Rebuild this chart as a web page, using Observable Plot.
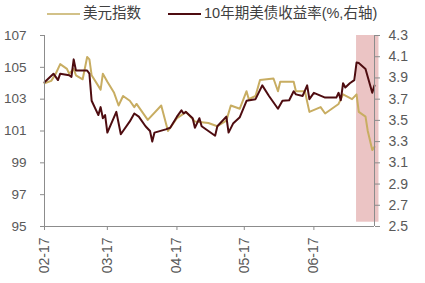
<!DOCTYPE html>
<html>
<head>
<meta charset="utf-8">
<script src="https://cdn.jsdelivr.net/npm/d3@7"></script>
<script src="https://cdn.jsdelivr.net/npm/@observablehq/plot@0.6"></script>
<style>
  html, body { margin: 0; padding: 0; background: #fff; }
  body { width: 425px; height: 283px; overflow: hidden; font-family: "Liberation Sans", Arial, "Noto Sans CJK SC", sans-serif; }
  #legend { position: relative; height: 20px; width: 425px; font-family: "Liberation Sans", "Noto Sans CJK SC", sans-serif; font-size: 14.5px; color: #404040; }
  .sw { position: absolute; top: 13px; height: 2px; width: 33px; }
  .lb { position: absolute; top: 4px; line-height: 18px; white-space: nowrap; }
  #chart svg { overflow: visible; }
</style>
</head>
<body>
<div id="legend"></div>
<div id="chart"></div>
<script>
// ---- data ----
const seriesNames = ["美元指数", "10年期美债收益率(%,右轴)"];
const seriesColors = ["#c8ad62", "#4e0c10"];

const dxyDates = ["2023-02-17","2023-02-20","2023-02-22","2023-02-24","2023-02-27","2023-02-28","2023-03-02","2023-03-03","2023-03-06","2023-03-08","2023-03-09","2023-03-10","2023-03-14","2023-03-15","2023-03-17","2023-03-20","2023-03-22","2023-03-24","2023-03-27","2023-03-29","2023-03-30","2023-04-04","2023-04-10","2023-04-13","2023-04-17","2023-04-19","2023-04-21","2023-04-25","2023-05-01","2023-05-05","2023-05-09","2023-05-11","2023-05-15","2023-05-18","2023-05-19","2023-05-22","2023-05-24","2023-05-30","2023-06-01","2023-06-02","2023-06-08","2023-06-09","2023-06-13","2023-06-15","2023-06-20","2023-06-22","2023-06-28","2023-06-30","2023-07-04","2023-07-06","2023-07-07","2023-07-10","2023-07-11","2023-07-13","2023-07-14"];
const dxyValues = [104.0,104.15,104.6,105.2,104.9,104.6,104.9,104.5,104.25,105.65,105.5,104.5,103.6,104.6,104.1,103.4,102.6,103.2,102.9,102.5,102.7,101.7,102.6,101.0,101.8,102.0,102.2,101.6,101.5,101.3,101.65,102.6,102.4,103.5,103.0,103.2,104.2,104.3,103.5,104.1,104.1,103.5,103.5,102.2,102.5,102.1,102.7,103.3,103.0,103.3,102.2,101.9,101.0,99.8,100.0];

const ylDates = ["2023-02-17","2023-02-21","2023-02-23","2023-02-24","2023-02-28","2023-03-01","2023-03-02","2023-03-03","2023-03-08","2023-03-09","2023-03-10","2023-03-13","2023-03-14","2023-03-15","2023-03-16","2023-03-17","2023-03-21","2023-03-23","2023-03-24","2023-03-27","2023-03-29","2023-03-31","2023-04-03","2023-04-05","2023-04-06","2023-04-07","2023-04-12","2023-04-14","2023-04-17","2023-04-19","2023-04-20","2023-04-21","2023-04-24","2023-04-25","2023-04-27","2023-04-28","2023-05-04","2023-05-05","2023-05-09","2023-05-10","2023-05-12","2023-05-15","2023-05-18","2023-05-22","2023-05-25","2023-05-28","2023-06-01","2023-06-03","2023-06-06","2023-06-08","2023-06-09","2023-06-12","2023-06-14","2023-06-15","2023-06-17","2023-06-22","2023-06-27","2023-06-28","2023-06-29","2023-06-30","2023-07-01","2023-07-03","2023-07-05","2023-07-06","2023-07-07","2023-07-10","2023-07-13","2023-07-14"];
const ylValues = [3.86,3.94,3.88,3.94,3.925,3.91,4.075,3.97,3.97,3.94,3.685,3.55,3.625,3.52,3.55,3.385,3.58,3.37,3.40,3.49,3.565,3.535,3.445,3.40,3.30,3.385,3.415,3.43,3.535,3.595,3.565,3.58,3.52,3.43,3.52,3.445,3.355,3.445,3.535,3.385,3.47,3.53,3.685,3.70,3.83,3.73,3.61,3.685,3.69,3.775,3.745,3.73,3.83,3.70,3.76,3.715,3.715,3.76,3.69,3.85,3.81,3.85,3.88,4.045,4.04,3.985,3.76,3.83];

const xDomain = ["2023-02-17", "2023-07-14"];
const xTickDates = ["2023-02-17","2023-03-17","2023-04-17","2023-05-17","2023-06-17"];
const leftTicks = [95, 97, 99, 101, 103, 105, 107];
const rightTicks = [2.5, 2.7, 2.9, 3.1, 3.3, 3.5, 3.7, 3.9, 4.1, 4.3];
const shadeDates = ["2023-07-06", "2023-07-16"];
const shadeLeft = [95.27, 107];

// ---- mapping right axis onto left scale ----
const L0 = 95, L1 = 107, R0 = 2.5, R1 = 4.3;
const toLeft = r => L0 + (r - R0) * (L1 - L0) / (R1 - R0);
const toRight = l => R0 + (l - L0) * (R1 - R0) / (L1 - L0);
const P = d3.utcParse("%Y-%m-%d");

const dxy = dxyDates.map((d, i) => ({date: P(d), v: dxyValues[i]}));
const yl = ylDates.map((d, i) => ({date: P(d), v: toLeft(ylValues[i])}));

// ---- legend ----
const legend = document.getElementById("legend");
const swX = [47, 168], lbX = [83, 204];
seriesNames.forEach((n, i) => {
  const s = document.createElement("div");
  s.className = "sw"; s.style.left = swX[i] + "px"; s.style.background = seriesColors[i];
  if (i === 0) s.style.background = "#d2c188";
  legend.appendChild(s);
  const t = document.createElement("div");
  t.className = "lb"; t.style.left = lbX[i] + "px"; t.textContent = n;
  legend.appendChild(t);
});

const textColor = "#595959";
const axisColor = "#8c8c8c";

const chart = Plot.plot({
  width: 425,
  height: 263,
  marginLeft: 44,
  marginRight: 51,
  marginTop: 15,
  marginBottom: 57,
  style: {fontFamily: "'Liberation Sans', Arial, sans-serif", color: textColor, background: "transparent"},
  x: {type: "utc", domain: xDomain.map(P)},
  y: {domain: [L0, L1]},
  marks: [
    Plot.rect([{x1: P(shadeDates[0]), x2: P(shadeDates[1]), y1: shadeLeft[0], y2: shadeLeft[1]}],
      {x1: "x1", x2: "x2", y1: "y1", y2: "y2", fill: "#ebc4c4"}),
    Plot.line(dxy, {x: "date", y: "v", stroke: seriesColors[0], strokeWidth: 2}),
    Plot.line(yl, {x: "date", y: "v", stroke: seriesColors[1], strokeWidth: 2}),
    Plot.ruleX([P(xDomain[0]), P(xDomain[1])], {stroke: axisColor, strokeWidth: 1}),
    Plot.ruleY([L0], {stroke: axisColor, strokeWidth: 1}),
    Plot.axisY(leftTicks, {anchor: "left", tickSize: 4, tickPadding: 14, fontSize: 13.5, stroke: axisColor, fill: textColor, label: null}),
    Plot.axisY(rightTicks.map(toLeft), {anchor: "right", tickSize: 5, tickPadding: 9, fontSize: 14, stroke: axisColor, fill: textColor, label: null,
      tickFormat: d => toRight(d).toFixed(1)}),
    Plot.axisX(xTickDates.map(P), {tickSize: 4, tickPadding: 7, tickRotate: -90, fontSize: 14, stroke: axisColor, fill: textColor,
      tickFormat: d3.utcFormat("%m-%d"), label: null})
  ]
});
document.getElementById("chart").appendChild(chart);
</script>
</body>
</html>
